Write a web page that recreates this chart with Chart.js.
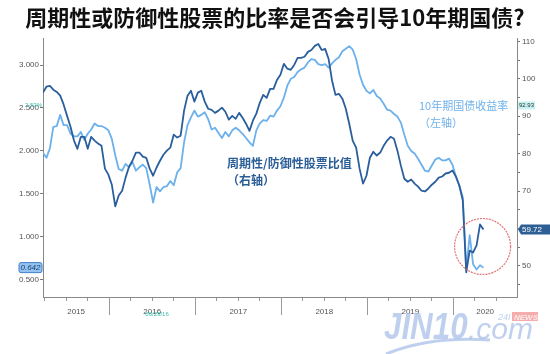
<!DOCTYPE html>
<html>
<head>
<meta charset="utf-8">
<script src="https://cdn.jsdelivr.net/npm/chart.js@4.4.0/dist/chart.umd.min.js"></script>
<style>
  html, body { margin: 0; padding: 0; background: #fff; }
  #wrap { width: 550px; height: 354px; }
</style>
</head>
<body>
<div id="wrap"><canvas id="chart" width="550" height="354"></canvas></div>
<script>
const titleText = "周期性或防御性股票的比率是否会引导10年期国债?";
const yearLabels = ["2015", "2016", "2017", "2018", "2019", "2020"];
const startYear = 2015.23, stepYear = 0.04;   // about two weeks per point

// 10年期国债收益率 (left axis, %)
const yieldVals = [
  1.98,1.92,2.03,2.28,2.29,2.42,2.30,2.30,2.20,2.17,
  2.17,2.22,2.13,2.20,2.25,2.32,2.29,2.29,2.27,2.24,
  2.14,1.95,1.79,1.77,1.85,1.81,1.87,1.77,1.81,1.84,
  1.80,1.61,1.40,1.58,1.53,1.58,1.59,1.65,1.60,1.75,
  1.80,2.10,2.30,2.39,2.47,2.40,2.42,2.45,2.37,2.25,
  2.27,2.21,2.15,2.22,2.17,2.24,2.27,2.24,2.20,2.15,
  2.10,2.06,2.24,2.32,2.36,2.35,2.41,2.40,2.47,2.52,
  2.62,2.76,2.84,2.86,2.92,2.95,2.97,3.03,3.07,3.06,
  3.01,3.00,3.01,2.97,3.02,3.06,3.09,3.16,3.19,3.22,
  3.18,3.07,2.89,2.77,2.70,2.67,2.71,2.64,2.61,2.55,
  2.48,2.47,2.43,2.40,2.33,2.19,2.06,2.00,1.97,1.91,
  1.84,1.77,1.76,1.83,1.90,1.92,1.89,1.89,1.91,1.84,
  1.70,1.59,1.46,0.62,1.02,0.68,0.62,0.67,0.642
];

// 周期性/防御性股票比值 (right axis)
const ratioVals = [
  96.3,97.9,98.1,97.1,96.5,95.5,93.1,90.1,87.2,83.5,
  81.3,84.5,84.5,81.3,84.5,83.5,82.7,82.1,76.0,74.4,
  71.7,65.9,68.8,70.1,73.6,76.5,78.1,80.3,80.3,79.2,
  78.9,76.0,74.1,76.3,78.1,79.7,80.8,81.6,85.1,84.3,
  84.8,91.5,95.5,96.8,93.9,96.3,96.8,93.9,92.0,91.7,
  90.9,91.5,92.3,91.2,89.1,90.1,89.3,90.9,89.6,88.0,
  86.1,88.8,90.7,93.6,95.7,94.9,97.3,97.3,99.7,101.1,
  104.0,102.7,102.4,103.7,105.6,105.6,105.9,107.2,107.7,108.8,
  109.3,107.7,108.0,105.3,99.5,95.7,96.0,94.7,92.0,88.0,
  83.5,81.6,76.0,72.0,74.1,78.9,80.5,79.5,80.3,82.1,
  83.5,84.5,84.0,80.8,76.8,73.3,72.5,73.1,72.0,71.2,
  70.1,69.9,70.7,71.7,72.5,73.6,73.9,74.7,74.9,75.5,
  73.9,71.5,67.5,48.3,54.1,53.6,55.5,61.1,59.72
];

const dates = yieldVals.map((_, i) => +(startYear + i * stepYear).toFixed(2));

const tickFont = { family: "'Liberation Sans', Arial, sans-serif", size: 8 };
const cjk = "'Noto Sans CJK SC', sans-serif";

const extras = {
  id: 'extras',
  afterDraw(chart) {
    const { ctx, chartArea: a, scales: { x, yL, yR } } = chart;
    ctx.save();

    // year separators + labels
    ctx.strokeStyle = '#999';
    ctx.lineWidth = 1;
    ctx.font = "8px 'Liberation Sans', Arial, sans-serif";
    ctx.fillStyle = '#555';
    ctx.textAlign = 'center';
    ctx.textBaseline = 'middle';
    yearLabels.forEach(lbl => {
      const y0 = +lbl;
      const l = Math.max(y0, x.min), r = Math.min(y0 + 1, x.max);
      if (y0 > x.min) {
        const px = Math.round(x.getPixelForValue(y0)) + 0.5;
        ctx.beginPath();
        ctx.moveTo(px, a.bottom);
        ctx.lineTo(px, a.bottom + 18);
        ctx.stroke();
      }
      ctx.fillText(lbl, (x.getPixelForValue(l) + x.getPixelForValue(r)) / 2, a.bottom + 15);
    });

    // series captions
    ctx.textAlign = 'left';
    ctx.fillStyle = '#6fb2ea';
    ctx.font = "11px " + cjk;
    ctx.fillText("10年期国债收益率", x.getPixelForValue(2019.6), yL.getPixelForValue(2.52));
    ctx.fillText("（左轴）", x.getPixelForValue(2019.6), yL.getPixelForValue(2.33));
    ctx.fillStyle = '#2b5d96';
    ctx.font = "bold 12px " + cjk;
    ctx.fillText("周期性/防御性股票比值", x.getPixelForValue(2017.37), yR.getPixelForValue(77.5));
    ctx.fillText("（右轴）", x.getPixelForValue(2017.37), yR.getPixelForValue(72.8));

    // crosshair markers
    const yc = yL.getPixelForValue(2.53);
    ctx.font = "6px 'Liberation Sans', Arial, sans-serif";
    ctx.fillStyle = '#37bfb0';
    ctx.textAlign = 'right';
    ctx.fillText("2.53%", a.left - 1, yc);
    ctx.fillStyle = '#c6f3f1';
    ctx.fillRect(a.right + 1, yc - 4, 17, 8);
    ctx.fillStyle = '#333';
    ctx.textAlign = 'left';
    ctx.fillText("92.93", a.right + 2, yc);
    ctx.fillStyle = '#37bfb0';
    ctx.fillText("06/23/16", x.getPixelForValue(2016.42), a.bottom + 17);

    // last value tags
    const lastR = ratioVals[ratioVals.length - 1];
    const lastL = yieldVals[yieldVals.length - 1];
    const pr = yR.getPixelForValue(lastR);
    ctx.fillStyle = '#2d5e94';
    ctx.beginPath();
    ctx.moveTo(a.right + 1, pr);
    ctx.lineTo(a.right + 4, pr - 5);
    ctx.lineTo(a.right + 40, pr - 5);
    ctx.lineTo(a.right + 40, pr + 5);
    ctx.lineTo(a.right + 4, pr + 5);
    ctx.closePath();
    ctx.fill();
    ctx.fillStyle = '#fff';
    ctx.font = "8px 'Liberation Sans', Arial, sans-serif";
    ctx.fillText(lastR.toFixed(2), a.right + 5, pr + 0.5);

    const pl = yL.getPixelForValue(lastL);
    ctx.fillStyle = '#93c3f0';
    ctx.strokeStyle = '#3f7fc8';
    ctx.beginPath();
    ctx.roundRect(a.left - 24, pl - 5, 23, 10, 2);
    ctx.fill();
    ctx.stroke();
    ctx.fillStyle = '#1d3d6e';
    ctx.font = "italic 8px 'Liberation Sans', Arial, sans-serif";
    ctx.textAlign = 'center';
    ctx.fillText(lastL.toFixed(3), a.left - 12.5, pl + 0.5);

    // red circle round the 2020 rebound
    ctx.strokeStyle = 'rgba(222,90,90,0.85)';
    ctx.lineWidth = 1.2;
    ctx.setLineDash([2, 1]);
    ctx.beginPath();
    ctx.arc(x.getPixelForValue(2020.34), yR.getPixelForValue(55.2), 28, 0, Math.PI * 2);
    ctx.stroke();
    ctx.setLineDash([]);

    // watermark
    ctx.globalAlpha = 0.75;
    ctx.fillStyle = '#a9c0ea';
    ctx.strokeStyle = '#a9c0ea';
    ctx.textAlign = 'left';
    ctx.textBaseline = 'alphabetic';
    ctx.save();
    ctx.translate(384, 339);
    ctx.scale(0.87, 1);
    ctx.font = "italic bold 36px 'Liberation Sans', Arial, sans-serif";
    ctx.fillText("JIN10", 0, 0);
    ctx.restore();
    ctx.font = "italic 30px 'Liberation Sans', Arial, sans-serif";
    ctx.fillText(".com", 468, 339);
    ctx.font = "italic 9px 'Liberation Sans', Arial, sans-serif";
    ctx.fillText("24I", 498, 320);
    ctx.fillStyle = '#f09090';
    ctx.fillRect(512, 312, 26, 9);
    ctx.fillStyle = '#fff';
    ctx.font = "italic bold 8px 'Liberation Sans', Arial, sans-serif";
    ctx.fillText("NEWS", 514, 320);
    ctx.lineWidth = 3;
    ctx.beginPath();
    ctx.moveTo(386, 354);
    ctx.quadraticCurveTo(430, 336, 490, 340);
    ctx.stroke();

    ctx.restore();
  }
};

new Chart(document.getElementById('chart'), {
  type: 'line',
  data: {
    datasets: [
      {
        label: '周期性/防御性股票比值',
        data: dates.map((d, i) => ({ x: d, y: ratioVals[i] })),
        yAxisID: 'yR',
        borderColor: '#2b5f9c',
        borderWidth: 1.8,
        pointRadius: 0,
        borderJoinStyle: 'round'
      },
      {
        label: '10年期国债收益率',
        data: dates.map((d, i) => ({ x: d, y: yieldVals[i] })),
        yAxisID: 'yL',
        borderColor: '#6cb0ec',
        borderWidth: 1.8,
        pointRadius: 0,
        borderJoinStyle: 'round'
      }
    ]
  },
  options: {
    responsive: false,
    animation: false,
    layout: { padding: 0 },
    plugins: {
      legend: { display: false },
      tooltip: { enabled: false },
      title: {
        display: true,
        text: titleText,
        color: '#111',
        font: { family: cjk, size: 22, weight: 'bold' },
        padding: { top: 4, bottom: 8 }
      }
    },
    scales: {
      x: {
        type: 'linear',
        min: 2015.23,
        max: 2020.74,
        ticks: { stepSize: 0.25, includeBounds: false, autoSkip: false, callback: () => '' },
        grid: { drawOnChartArea: false, tickLength: 4, color: '#999' },
        border: { color: '#888' },
        afterFit: s => { s.height = 57; }
      },
      yL: {
        position: 'left',
        min: 0.3,
        max: 3.31,
        ticks: { stepSize: 0.5, includeBounds: false, font: tickFont, color: '#555', padding: 1,
                 callback: v => v.toFixed(3) },
        grid: { drawOnChartArea: false, tickLength: 3, color: '#777' },
        border: { color: '#888' },
        afterFit: s => { s.width = 43; }
      },
      yR: {
        position: 'right',
        min: 41.7,
        max: 110.8,
        ticks: { stepSize: 5, includeBounds: false, font: tickFont, color: '#555', padding: 2,
                 callback: v => (v % 10 === 0 ? String(v) : '') },
        grid: { drawOnChartArea: false, tickLength: 3, color: '#777' },
        border: { color: '#888' },
        afterFit: s => { s.width = 33; }
      }
    }
  },
  plugins: [extras]
});
</script>
</body>
</html>
